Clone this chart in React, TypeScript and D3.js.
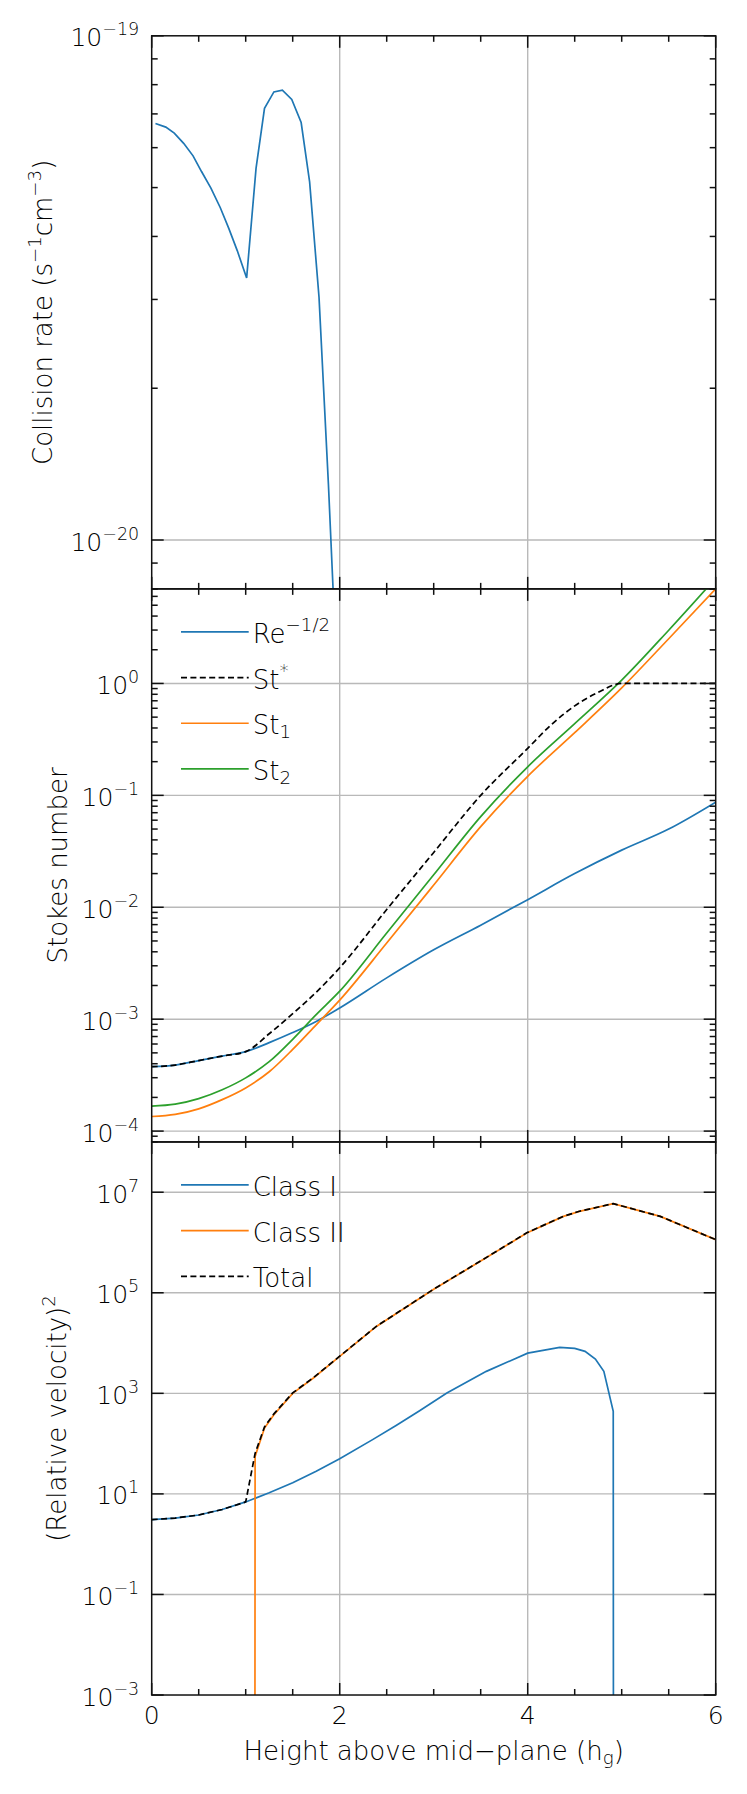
import { useEffect, useRef } from 'react';
import * as d3 from 'd3';

// Panel 1: collision rate (s^-1 cm^-3)
const rateX = [0.04, 0.15, 0.24, 0.34, 0.44, 0.53, 0.63, 0.73, 0.82, 0.91, 1.01, 1.11, 1.2, 1.3, 1.39, 1.49, 1.59, 1.68, 1.78, 1.88, 1.97];
const rateY = [6.7e-20, 6.59e-20, 6.41e-20, 6.12e-20, 5.78e-20, 5.38e-20, 4.99e-20, 4.56e-20, 4.15e-20, 3.75e-20, 3.31e-20, 5.46e-20, 7.18e-20, 7.74e-20, 7.8e-20, 7.48e-20, 6.73e-20, 5.13e-20, 3.03e-20, 1.29e-20, 5.4e-21];
const rateTickExps = [-20, -19];

// Panel 2: Stokes numbers
const stokesX = [0, 0.25, 0.5, 0.75, 1.0, 1.25, 1.5, 1.75, 2.0, 2.5, 3.0, 3.5, 4.0, 4.5, 5.0, 5.5, 6.0];
const reInvSqrt = [3.76e-4, 3.89e-4, 4.27e-4, 4.68e-4, 5.13e-4, 6.17e-4, 7.59e-4, 9.55e-4, 1.26e-3, 2.34e-3, 4.17e-3, 6.92e-3, 1.17e-2, 2.0e-2, 3.24e-2, 5.0e-2, 8.7e-2];
const st1 = [1.35e-4, 1.41e-4, 1.58e-4, 1.91e-4, 2.43e-4, 3.39e-4, 5.37e-4, 8.91e-4, 1.48e-3, 4.79e-3, 1.58e-2, 5.25e-2, 0.148, 0.363, 0.912, 2.51, 7.0];
const st2 = [1.67e-4, 1.74e-4, 1.95e-4, 2.34e-4, 2.99e-4, 4.17e-4, 6.61e-4, 1.1e-3, 1.78e-3, 5.89e-3, 1.95e-2, 6.46e-2, 0.18, 0.437, 1.07, 2.99, 8.71];
const stStarX = [0, 0.25, 0.5, 0.75, 1.0, 1.25, 1.5, 1.75, 2.0, 2.5, 3.0, 3.5, 4.0, 4.25, 4.5, 4.75, 5.0, 5.5, 6.0];
const stStar = [3.76e-4, 3.89e-4, 4.27e-4, 4.68e-4, 5.13e-4, 7.41e-4, 1.12e-3, 1.74e-3, 2.88e-3, 9.55e-3, 3.09e-2, 0.1, 0.263, 0.427, 0.63, 0.832, 1, 1, 1];
const stokesTickExps = [-4, -3, -2, -1, 0];

// Panel 3: (relative velocity)^2
const classIX = [0, 0.25, 0.5, 0.75, 1.0, 1.25, 1.5, 1.75, 2.0, 2.35, 2.6, 2.85, 3.14, 3.56, 4.0, 4.34, 4.5, 4.61, 4.72, 4.81, 4.91, 5.0];
const classI = [3.07, 3.31, 3.8, 4.9, 6.92, 10.5, 16.6, 28.2, 50.1, 120, 230, 452, 1016, 2735, 6310, 8200, 7830, 6840, 4820, 2740, 437, 0];
const classIIX = [0, 1.0, 1.1, 1.2, 1.3, 1.5, 1.72, 2.0, 2.39, 3.0, 3.5, 3.99, 4.38, 4.55, 4.91, 5.41, 6.0];
const classII = [0, 0, 55.6, 204, 376, 1000, 2020, 5430, 21400, 117500, 427000, 1.55e6, 3.31e6, 4.17e6, 5.93e6, 3.31e6, 1.14e6];
const totalX = [0, 0.25, 0.5, 0.75, 1.0, 1.1, 1.2, 1.3, 1.5, 1.72, 2.0, 2.39, 3.0, 3.5, 3.99, 4.38, 4.55, 4.91, 5.41, 6.0];
const total = [3.07, 3.31, 3.8, 4.9, 6.92, 64, 215, 390, 1020, 2050, 5480, 21500, 118000, 430000, 1.56e6, 3.32e6, 4.18e6, 5.93e6, 3.31e6, 1.14e6];
const velTickExps = [-3, -1, 1, 3, 5, 7];

const xTickLabels = [0, 2, 4, 6];

const W = 747;
const H = 1794;
const plotLeft = 151.7;
const plotRight = 715.7;
const plotTop = 35.8;
const panelH = 553.07;
const FONT = '"DejaVu Sans", "Liberation Sans", sans-serif';
const INK = '#000';
const BLUE = '#1f77b4';
const ORANGE = '#ff7f0e';
const GREEN = '#2ca02c';
const DASH = '6 3.4';

type Part = { t: string; s?: 'sup' | 'sub' };

function addRich(text: any, parts: Part[], size: number) {
    let shift = 0;
    parts.forEach(p => {
        const target = p.s === 'sup' ? -0.44 * size : p.s === 'sub' ? 0.16 * size : 0;
        text.append('tspan')
            .attr('dy', target - shift)
            .attr('font-size', p.s ? size * 0.7 : size)
            .text(p.t);
        shift = target;
    });
}

const fmtExp = (e: number) => (e < 0 ? '\u2212' + Math.abs(e) : String(e));
const safe = (v: number) => (v > 0 ? v : 1e-300);

interface Series { xs: number[]; ys: number[]; color: string; dashed?: boolean }

export default function App() {
    const svgRef = useRef<SVGSVGElement>(null);

    useEffect(() => {
        if (!svgRef.current) return;
        const svg = d3.select(svgRef.current);
        svg.selectAll('*').remove();

        const x = d3.scaleLinear().domain([0, 6]).range([plotLeft, plotRight]);
        const xSteps = d3.range(0, 6.001, 0.5);

        const panels = [
            {
                domain: [8e-21, 1e-19],
                labels: rateTickExps,
                oddOnly: false,
                curve: d3.curveLinear,
                series: [{ xs: rateX, ys: rateY, color: BLUE }] as Series[],
                title: [{ t: 'Collision rate (s' }, { t: '\u22121', s: 'sup' }, { t: 'cm' }, { t: '\u22123', s: 'sup' }, { t: ')' }] as Part[],
                titleX: 52,
                legend: [] as { parts: Part[]; color: string; dashed?: boolean }[],
            },
            {
                domain: [8e-5, 7],
                labels: stokesTickExps,
                oddOnly: false,
                curve: d3.curveMonotoneX,
                series: [
                    { xs: stokesX, ys: reInvSqrt, color: BLUE },
                    { xs: stokesX, ys: st1, color: ORANGE },
                    { xs: stokesX, ys: st2, color: GREEN },
                    { xs: stStarX, ys: stStar, color: '#000', dashed: true },
                ] as Series[],
                title: [{ t: 'Stokes number' }] as Part[],
                titleX: 66.5,
                legend: [
                    { parts: [{ t: 'Re' }, { t: '\u22121/2', s: 'sup' }] as Part[], color: BLUE },
                    { parts: [{ t: 'St' }, { t: '*', s: 'sup' }] as Part[], color: '#000', dashed: true },
                    { parts: [{ t: 'St' }, { t: '1', s: 'sub' }] as Part[], color: ORANGE },
                    { parts: [{ t: 'St' }, { t: '2', s: 'sub' }] as Part[], color: GREEN },
                ],
            },
            {
                domain: [1e-3, 1e8],
                labels: velTickExps,
                oddOnly: true,
                curve: d3.curveLinear,
                series: [
                    { xs: classIX, ys: classI, color: BLUE },
                    { xs: classIIX, ys: classII, color: ORANGE },
                    { xs: totalX, ys: total, color: '#000', dashed: true },
                ] as Series[],
                title: [{ t: '(Relative velocity)' }, { t: '2', s: 'sup' }] as Part[],
                titleX: 66,
                legend: [
                    { parts: [{ t: 'Class I' }] as Part[], color: BLUE },
                    { parts: [{ t: 'Class II' }] as Part[], color: ORANGE },
                    { parts: [{ t: 'Total' }] as Part[], color: '#000', dashed: true },
                ],
            },
        ];

        const defs = svg.append('defs');

        panels.forEach((p, i) => {
            const top = plotTop + i * panelH;
            const bottom = top + panelH;
            const y = d3.scaleLog().domain(p.domain).range([bottom, top]);
            const g = svg.append('g');

            defs.append('clipPath').attr('id', `clip-${i}`)
                .append('rect')
                .attr('x', plotLeft).attr('y', top)
                .attr('width', plotRight - plotLeft).attr('height', panelH);

            // major / minor log ticks
            const lo = Math.floor(Math.log10(p.domain[0]));
            const hi = Math.ceil(Math.log10(p.domain[1]));
            const majors: number[] = [];
            const minors: number[] = [];
            for (let e = lo; e <= hi; e++) {
                for (let k = 1; k <= 9; k++) {
                    const v = k * Math.pow(10, e);
                    if (v < p.domain[0] * 0.999 || v > p.domain[1] * 1.001) continue;
                    if (k === 1) {
                        if (!p.oddOnly || Math.abs(e % 2) === 1) majors.push(v);
                    } else if (!p.oddOnly) {
                        minors.push(v);
                    }
                }
            }

            // grid
            const grid = g.append('g').attr('stroke', '#b9b9b9').attr('stroke-width', 1.4);
            majors.filter(v => y(v) > top + 1 && y(v) < bottom - 1).forEach(v => {
                grid.append('line')
                    .attr('x1', plotLeft).attr('x2', plotRight)
                    .attr('y1', y(v)).attr('y2', y(v));
            });
            [2, 4].forEach(v => {
                grid.append('line')
                    .attr('x1', x(v)).attr('x2', x(v))
                    .attr('y1', top).attr('y2', bottom);
            });

            // curves
            const curves = g.append('g').attr('clip-path', `url(#clip-${i})`);
            p.series.forEach(s => {
                const pts = s.xs.map((xv, j) => [xv, s.ys[j]] as [number, number]);
                const line = d3.line<[number, number]>()
                    .x(d => x(d[0]))
                    .y(d => y(safe(d[1])))
                    .curve(p.curve);
                curves.append('path')
                    .attr('d', line(pts))
                    .attr('fill', 'none')
                    .attr('stroke', s.color)
                    .attr('stroke-width', 1.7)
                    .attr('stroke-dasharray', s.dashed ? DASH : null);
            });

            // frame and ticks
            const ax = g.append('g').attr('stroke', '#111').attr('stroke-width', 1.5);
            ax.append('rect')
                .attr('x', plotLeft).attr('y', top)
                .attr('width', plotRight - plotLeft).attr('height', panelH)
                .attr('fill', 'none');
            const yTick = (v: number, len: number) => {
                ax.append('line').attr('x1', plotLeft).attr('x2', plotLeft + len).attr('y1', y(v)).attr('y2', y(v));
                ax.append('line').attr('x1', plotRight - len).attr('x2', plotRight).attr('y1', y(v)).attr('y2', y(v));
            };
            majors.forEach(v => yTick(v, 12));
            minors.forEach(v => yTick(v, 6));
            xSteps.forEach(v => {
                const len = v % 2 === 0 ? 12 : 6;
                ax.append('line').attr('x1', x(v)).attr('x2', x(v)).attr('y1', top).attr('y2', top + len);
                ax.append('line').attr('x1', x(v)).attr('x2', x(v)).attr('y1', bottom - len).attr('y2', bottom);
            });

            // y tick labels
            p.labels.forEach(e => {
                const t = g.append('text')
                    .attr('x', plotLeft - 12.5)
                    .attr('y', y(Math.pow(10, e)) + 10.5)
                    .attr('text-anchor', 'end')
                    .attr('font-family', FONT)
                    .attr('font-weight', 200)
                    .attr('fill', INK);
                addRich(t, [{ t: '10' }, { t: fmtExp(e), s: 'sup' }], 25);
            });

            // y title
            const title = g.append('text')
                .attr('transform', `translate(${p.titleX},${(top + bottom) / 2}) rotate(-90)`)
                .attr('text-anchor', 'middle')
                .attr('font-family', FONT)
                .attr('font-weight', 200)
                .attr('fill', INK);
            addRich(title, p.title, 26);

            // legend
            p.legend.forEach((item, j) => {
                const ly = top + 43 + j * 45.7;
                g.append('line')
                    .attr('x1', 181).attr('x2', 248.7)
                    .attr('y1', ly).attr('y2', ly)
                    .attr('stroke', item.color)
                    .attr('stroke-width', 1.7)
                    .attr('stroke-dasharray', item.dashed ? DASH : null);
                const t = g.append('text')
                    .attr('x', 252.7).attr('y', ly + 11)
                    .attr('font-family', FONT)
                    .attr('font-weight', 200)
                    .attr('fill', INK);
                addRich(t, item.parts, 26);
            });

            // x labels on the last panel
            if (i === panels.length - 1) {
                xTickLabels.forEach(v => {
                    g.append('text')
                        .attr('x', x(v)).attr('y', bottom + 29)
                        .attr('text-anchor', 'middle')
                        .attr('font-family', FONT)
                        .attr('font-weight', 200)
                        .attr('font-size', 25)
                        .attr('fill', INK)
                        .text(v);
                });
                const xt = g.append('text')
                    .attr('x', (plotLeft + plotRight) / 2).attr('y', bottom + 65)
                    .attr('text-anchor', 'middle')
                    .attr('font-family', FONT)
                    .attr('font-weight', 200)
                    .attr('fill', INK);
                addRich(xt, [{ t: 'Height above mid\u2212plane (h' }, { t: 'g', s: 'sub' }, { t: ')' }], 26);
            }
        });
    }, []);

    return (
        <svg
            ref={svgRef}
            width={W}
            height={H}
            style={{ position: 'absolute', left: 0, top: 0, background: '#fff' }}
        />
    );
}
